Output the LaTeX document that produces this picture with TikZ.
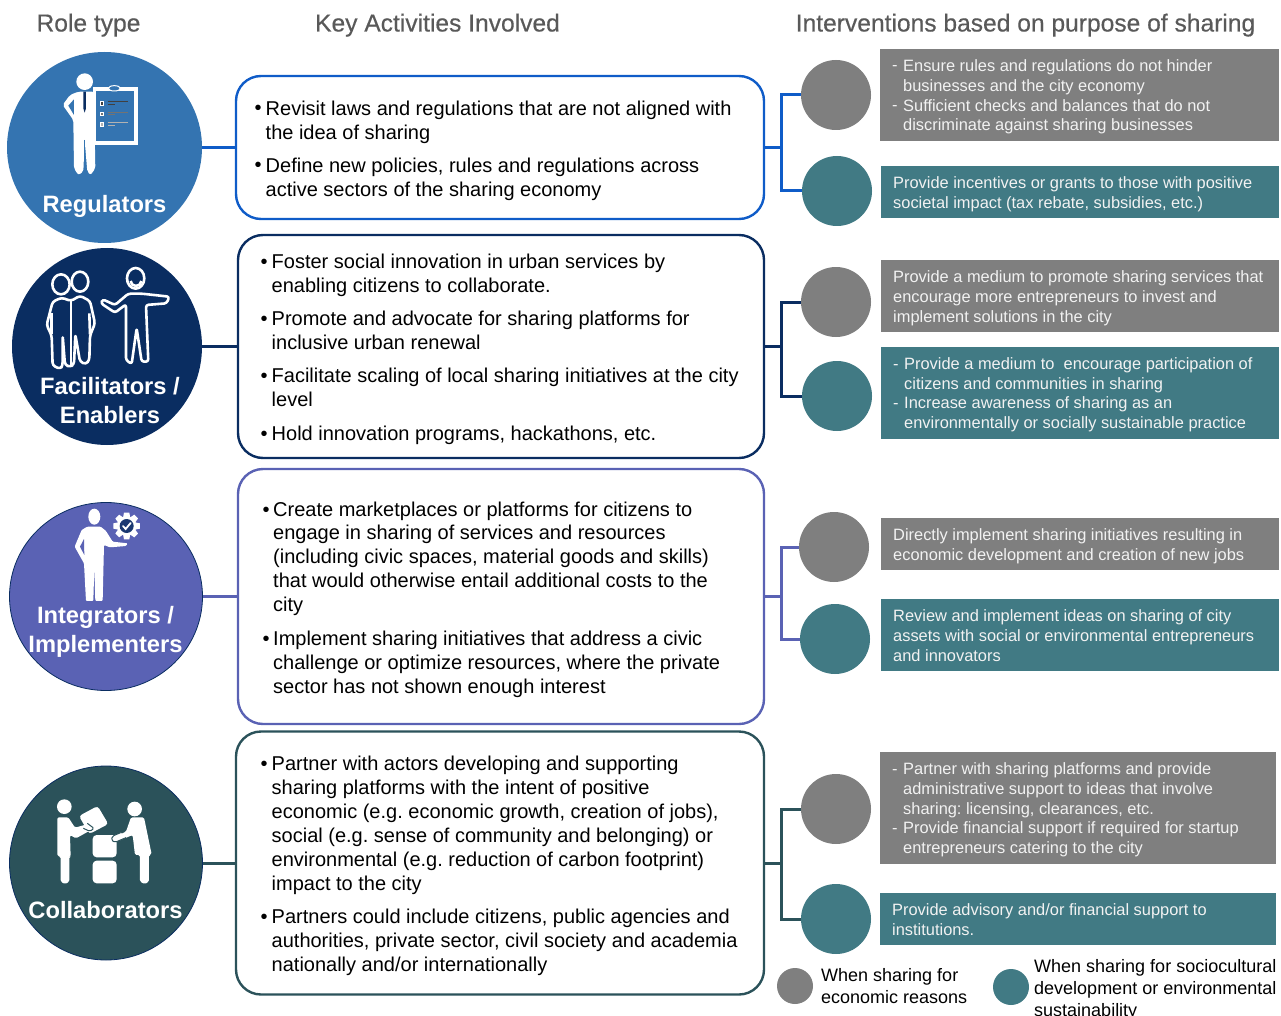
\documentclass[tikz,border=0pt]{standalone}
\usepackage{fontspec}
\usetikzlibrary{shapes.geometric}
\setmainfont{Liberation Sans}
\newfontfamily\headfont[FakeBold=0.4]{Liberation Sans}
\definecolor{cReg}{HTML}{3474B1}
\definecolor{cRegL}{HTML}{0F5CC8}
\definecolor{cFac}{HTML}{0A2D61}
\definecolor{cInt}{HTML}{5A62B4}
\definecolor{cCol}{HTML}{2B525A}
\definecolor{cGray}{HTML}{7F7F7F}
\definecolor{cTeal}{HTML}{417A84}
\definecolor{cHead}{HTML}{595959}
\definecolor{cTxt}{HTML}{F2F2F2}
\tikzset{
 rolebox/.style={draw=#1,line width=2.4pt,rounded corners=25pt,fill=white},
 rolecircle/.style={circle,inner sep=0pt,minimum size=#1,anchor=center},
 roleoval/.style={ellipse,inner sep=0pt,anchor=center},
 link/.style={line width=3pt},
 headtext/.style={anchor=base,text=cHead,font=\headfont\fontsize{24.6}{28}\selectfont},
 bodytext/.style={anchor=north west,inner sep=0pt,align=left,text=black,font=\frenchspacing\fontsize{20}{24}\selectfont},
 bull/.style={anchor=base,inner sep=0pt,text=black,font=\fontsize{20}{24}\selectfont},
 smalltext/.style={anchor=north west,inner sep=0pt,align=left,text=cTxt,font=\frenchspacing\fontsize{16.4}{20}\selectfont},
 dashmark/.style={anchor=base west,inner sep=0pt,text=cTxt,font=\fontsize{16.4}{20}\selectfont},
 lbl/.style={anchor=base,inner sep=0pt,text=white,font=\bfseries\fontsize{23.7}{28}\selectfont},
 legtext/.style={anchor=north west,inner sep=0pt,align=left,text=black,font=\fontsize{18}{22}\selectfont},
 icon/.style={x=0.3333pt,y=-0.3333pt},
}
% name, x, first baseline, text
\newcommand{\bp}[4]{\node[bodytext] (#1) at (#2-0.5,#3-16.8) {\strut #4};}
\newcommand{\sm}[4]{\node[smalltext] (#1) at (#2-0.5,#3-14) {\strut #4};}
\newcommand{\bu}[3]{\node[bull] (#1) at (#2,#3) {•};}
\begin{document}
\begin{tikzpicture}[x=1pt,y=-1pt]
\useasboundingbox (0,0) rectangle (1281,1016);
\clip (0,0) rectangle (1281,1016);
% headers
\node[headtext] (h1) at (88.5,31.5) {Role type};
\node[headtext] (h2) at (437.5,31.5) {Key Activities Involved};
\node[headtext] (h3) at (1025.5,31.5) {Interventions based on purpose of sharing};
% right-hand circles
\node[rolecircle=70pt,fill=cGray] (g1) at (836,95) {};
\node[rolecircle=70pt,fill=cTeal] (t1) at (837,191) {};
\node[rolecircle=70pt,fill=cGray] (g2) at (836,302) {};
\node[rolecircle=70pt,fill=cTeal] (t2) at (837,396) {};
\node[rolecircle=70pt,fill=cGray] (g3) at (834,547) {};
\node[rolecircle=70pt,fill=cTeal] (t3) at (835,639) {};
\node[rolecircle=70pt,fill=cGray] (g4) at (836,809) {};
\node[rolecircle=70pt,fill=cTeal] (t4) at (836,919) {};
\node[rolecircle=36pt,fill=cGray] (lg) at (795,986) {};
\node[rolecircle=36pt,fill=cTeal] (lt) at (1011,987) {};
% role circles
\node[roleoval,minimum width=195pt,minimum height=191pt,fill=cReg] (c1) at (104.5,147.5) {};
\node[roleoval,minimum width=190pt,minimum height=197pt,fill=cFac] (c2) at (107,346.5) {};
\node[roleoval,minimum width=193pt,minimum height=188pt,fill=cInt,draw=cFac,line width=0.8pt] (c3) at (106,596.5) {};
\node[roleoval,minimum width=193pt,minimum height=194pt,fill=cCol,draw=cFac,line width=0.8pt] (c4) at (106,863) {};
% role boxes
\node[rolebox=cRegL,minimum width=528pt,minimum height=143pt,inner sep=0pt] (b1) at (500,147.5) {};
\node[rolebox=cFac,minimum width=526pt,minimum height=223pt,inner sep=0pt] (b2) at (501,346.5) {};
\node[rolebox=cInt,minimum width=526pt,minimum height=255pt,inner sep=0pt] (b3) at (501,596.5) {};
\node[rolebox=cCol,minimum width=528pt,minimum height=263pt,inner sep=0pt] (b4) at (500,863) {};
% connectors
\draw[link,cRegL] (c1.east) -- (b1.west);
\draw[link,cFac] (c2.east) -- (b2.west);
\draw[link,cInt] (c3.east) -- (b3.west);
\draw[link,cCol] (c4.east) -- (b4.west);
\coordinate (j1) at (781.5,147.5);
\coordinate (j2) at (781.5,346.5);
\coordinate (j3) at (781.5,596.5);
\coordinate (j4) at (781.5,863);
\draw[link,cRegL] (b1.east) -- (j1);
\draw[link,cRegL] (g1.west) -| (j1) |- (t1.west);
\draw[link,cFac] (b2.east) -- (j2);
\draw[link,cFac] (g2.west) -| (j2) |- (t2.west);
\draw[link,cInt] (b3.east) -- (j3);
\draw[link,cInt] (g3.west) -| (j3) |- (t3.west);
\draw[link,cCol] (b4.east) -- (j4);
\draw[link,cCol] (g4.west) -| (j4) |- (t4.west);
% right boxes
\fill[cGray] (880,49) rectangle (1279,141);
\fill[cTeal] (881,166) rectangle (1279,218);
\fill[cGray] (881,260) rectangle (1279,332);
\fill[cTeal] (881,347) rectangle (1279,439);
\fill[cGray] (881,518) rectangle (1279,570);
\fill[cTeal] (881,599) rectangle (1279,671);
\fill[cGray] (880,752) rectangle (1276,864);
\fill[cTeal] (880,893) rectangle (1276,945);
% role labels
\node[lbl] (l1) at (104.5,213) {Regulators};
\node[lbl] (l2a) at (110,394) {Facilitators /};
\node[lbl] (l2b) at (110,423) {Enablers};
\node[lbl] (l3a) at (105.5,623) {Integrators /};
\node[lbl] (l3b) at (105.5,652.5) {Implementers};
\node[lbl] (l4) at (105.5,918.5) {Collaborators};
% box 1 text
\bu{s1}{258}{115}\bp{p1}{266}{115}{Revisit laws and regulations that are not aligned with\\the idea of sharing}
\bu{s2}{258}{172}\bp{p2}{266}{172}{Define new policies, rules and regulations across\\active sectors of the sharing economy}
% box 2 text
\bu{s3}{264}{268}\bp{p3}{272}{268}{Foster social innovation in urban services by\\enabling citizens to collaborate.}
\bu{s4}{264}{325}\bp{p4}{272}{325}{Promote and advocate for sharing platforms for\\inclusive urban renewal}
\bu{s5}{264}{382}\bp{p5}{272}{382}{Facilitate scaling of local sharing initiatives at the city\\level}
\bu{s6}{264}{440}\bp{p6}{272}{440}{Hold innovation programs, hackathons, etc.}
% box 3 text
\bu{s7}{266}{516}\node[bodytext,font=\frenchspacing\fontsize{20}{23.75}\selectfont] (p7) at (273,516-16.625) {\strut Create marketplaces or platforms for citizens to\\engage in sharing of services and resources\\(including civic spaces, material goods and skills)\\that would otherwise entail additional costs to the\\city};
\bu{s8}{266}{645}\bp{p8}{273.5}{645}{Implement sharing initiatives that address a civic\\challenge or optimize resources, where the private\\sector has not shown enough interest}
% box 4 text
\bu{s9}{264}{770}\bp{p9}{272}{770}{Partner with actors developing and supporting\\sharing platforms with the intent of positive\\economic (e.g. economic growth, creation of jobs),\\social (e.g. sense of community and belonging) or\\environmental (e.g. reduction of carbon footprint)\\impact to the city}
\bu{s10}{264}{923}\bp{p10}{272}{923}{Partners could include citizens, public agencies and\\authorities, private sector, civil society and academia\\nationally and/or internationally}
% right text
\node[dashmark] (d1) at (892,71) {-};\sm{r1}{903.5}{71}{Ensure rules and regulations do not hinder\\businesses and the city economy}
\node[dashmark] (d2) at (892,111) {-};\node[smalltext,font=\frenchspacing\fontsize{16.4}{19.4}\selectfont] (r2) at (903,111-13.58) {\strut Sufficient checks and balances that do not\\discriminate against sharing businesses};
\sm{r3}{893.5}{188}{Provide incentives or grants to those with positive\\societal impact (tax rebate, subsidies, etc.)}
\sm{r4}{893.5}{282}{Provide a medium to promote sharing services that\\encourage more entrepreneurs to invest and\\implement solutions in the city}
\node[dashmark] (d5) at (893,369) {-};\sm{r5}{904.5}{369}{Provide a medium to\ \ encourage participation of\\citizens and communities in sharing}
\node[dashmark] (d6) at (893,408) {-};\sm{r6}{904.5}{408}{Increase awareness of sharing as an\\environmentally or socially sustainable practice}
\sm{r7}{893.5}{540}{Directly implement sharing initiatives resulting in\\economic development and creation of new jobs}
\sm{r8}{893.5}{621}{Review and implement ideas on sharing of city\\assets with social or environmental entrepreneurs\\and innovators}
\node[dashmark] (d9) at (892,774) {-};\sm{r9}{903.5}{774}{Partner with sharing platforms and provide\\administrative support to ideas that involve\\sharing: licensing, clearances, etc.}
\node[dashmark] (d10) at (892,833) {-};\sm{r10}{903.5}{833}{Provide financial support if required for startup\\entrepreneurs catering to the city}
\sm{r11}{892.5}{915}{Provide advisory and/or financial support to\\institutions.}
% legend
\node[legtext] (k1) at (821,981-15.4) {\strut When sharing for\\economic reasons};
\node[legtext] (k2) at (1034,972-15.4) {\strut When sharing for sociocultural\\development or environmental\\sustainability};
% icon: regulators
\begin{scope}[shift={(0,40)},icon]
 \fill[white] (254,125) circle (25);
 \fill[white,rounded corners=2pt] (235,155) -- (210,165) -- (188,195) -- (220,240) -- (222,385) -- (235,405) -- (250,395) -- (254,300) -- (262,395) -- (272,405) -- (286,385) -- (282,155) -- cycle;
 \fill[cReg] (222,178) -- (205,197) -- (222,225) -- cycle;
 \draw[cReg,line width=1pt] (254,300) -- (254,395);
 \fill[cFac] (250,155) -- (258,155) -- (258,205) -- (254,218) -- (250,205) -- cycle;
 \draw[white,line width=3.2pt,fill=cReg] (283,147) rectangle (408,309);
 \draw[white,fill=cReg,line width=1pt] (325,145) arc[start angle=180,end angle=0,x radius=18,y radius=8] arc[start angle=0,end angle=-180,x radius=18,y radius=8];
 \foreach \yy/\cc in {190/black!75,221/black!55,253/black!30}{
  \draw[white,fill=\cc,line width=0.5pt] (301,\yy-5) rectangle (311,\yy+5);
  \draw[\cc,line width=1pt] (323,\yy-4) -- (383,\yy-4);
  \draw[\cc,line width=1pt] (323,\yy+3) -- (345,\yy+3);
 }
\end{scope}
% icon: facilitators
\begin{scope}[shift={(0,245)},icon,white,line width=2.6pt,line join=round]
 \draw (183,118) ellipse (26 and 30);
 \draw (240,110) ellipse (25 and 30);
 \draw[rounded corners=3pt] (213,168) -- (185,158) -- (158,170) -- (140,240) -- (155,272) -- (158,362) -- (182,372) -- (188,360) -- (188,272) -- (195,360) -- (210,366) -- (222,358) -- (226,268) -- (240,350) -- (258,358) -- (268,345) -- (270,272) -- (285,235) -- (270,168) -- (240,152) -- cycle;
 \draw (213,168) -- (213,362);
 \draw (155,205) -- (155,268);
 \draw (268,205) -- (270,268);
 \draw (407,100) ellipse (26 and 31);
 \draw (392,108) arc[start angle=180,end angle=0,x radius=16,y radius=15];
 \draw[rounded corners=2.5pt] (385,146) -- (345,180) -- (308,163) -- (303,175) -- (345,203) -- (378,178) -- (378,345) -- (395,357) -- (410,250) -- (425,350) -- (445,350) -- (438,180) -- (500,175) -- (508,155) -- (425,146) -- cycle;
\end{scope}
% icon: integrators
\begin{scope}[shift={(0,495)},icon]
 \fill[white] (283,65) ellipse (18 and 24);
 \fill[white,rounded corners=1pt] (262,95) -- (302,95) -- (318,108) -- (338,140) -- (383,145) -- (378,153) -- (330,157) -- (312,150) -- (308,318) -- (286,318) -- (283,215) -- (280,318) -- (258,318) -- (252,205) -- (224,155) -- (245,105) -- cycle;
 \fill[cInt] (252,132) -- (240,155) -- (253,180) -- cycle;
 \begin{scope}[shift={(380,93)}]
  \foreach \a in {0,45,...,315}{\fill[white,rotate=\a] (-8,-40) -- (8,-40) -- (11,-24) -- (-11,-24) -- cycle;}
  \fill[white] (0,0) circle (29);
  \fill[cFac!80!cInt] (0,0) circle (21);
  \draw[white,line width=1.8pt,line cap=round] (-11,0) -- (-3,9) -- (12,-9);
 \end{scope}
\end{scope}
% icon: collaborators
\begin{scope}[shift={(0,760)},icon]
 \fill[white] (193,140) circle (22);
 \fill[white,rounded corners=1.5pt] (172,172) -- (205,172) -- (225,203) -- (272,190) -- (282,205) -- (228,235) -- (210,225) -- (212,290) -- (208,290) -- (208,365) -- (195,372) -- (182,365) -- (182,290) -- (172,288) -- cycle;
 \fill[white] (404,147) circle (22);
 \fill[white,rounded corners=1.5pt] (393,172) -- (432,172) -- (455,283) -- (447,285) -- (447,365) -- (434,372) -- (420,365) -- (420,285) -- (405,285) -- (398,225) -- (345,247) -- (335,235) -- (378,215) -- cycle;
 \fill[white,rounded corners=3pt] (237,168) -- (293,138) -- (325,192) -- (268,222) -- cycle;
 \draw[cCol,line width=1pt,fill=white,rounded corners=1.5pt] (262,190) -- (282,205) -- (270,214) -- (250,205);
 \fill[white,rounded corners=4pt] (278,225) rectangle (350,292);
 \fill[white,rounded corners=4pt] (278,302) rectangle (350,370);
 \draw[cCol,line width=1pt,fill=white,rounded corners=1.5pt] (362,218) -- (338,228) -- (334,240) -- (345,247) -- (378,233);
\end{scope}
\end{tikzpicture}
\end{document}
